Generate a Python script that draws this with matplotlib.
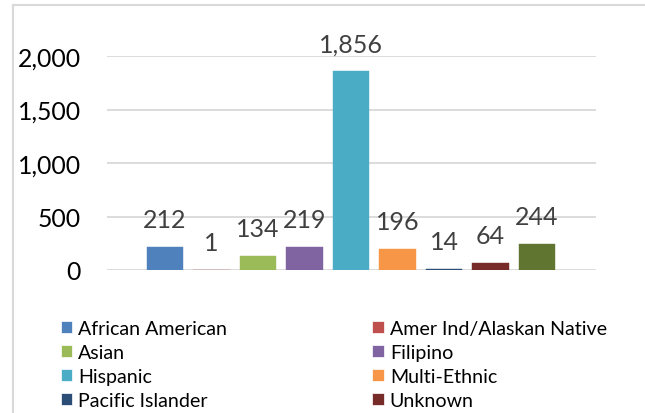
import matplotlib.pyplot as plt
from matplotlib.lines import Line2D
from matplotlib.patches import Patch
from matplotlib.ticker import FuncFormatter

# enrollment counts by ethnicity
categories = ["African American", "Amer Ind/Alaskan Native", "Asian", "Filipino",
              "Hispanic", "Multi-Ethnic", "Pacific Islander", "Unknown", "White"]
counts = [212, 1, 134, 219, 1856, 196, 14, 64, 244]
colors = ["#4F81BD", "#C0504D", "#9BBB59", "#8064A2", "#4BACC6",
          "#F79646", "#2C4D75", "#772C2A", "#5F7530"]
yticks = [0, 500, 1000, 1500, 2000]

plt.rcParams["font.family"] = ["Lato", "DejaVu Sans"]

W, H = 645, 414
fig = plt.figure(figsize=(W / 100, H / 100), dpi=100)
ax = fig.add_axes([107 / W, (H - 271) / H, 489 / W, 214 / H])

x = list(range(len(counts)))
ax.bar(x, counts, width=0.79, color=colors, edgecolor=colors, linewidth=0.3, zorder=3)
for xi, v in zip(x, counts):
    ax.annotate(f"{v:,}", (xi, v), xytext=(0, 20), textcoords="offset pixels",
                ha="center", va="baseline", fontsize=18, color="#404040",
                annotation_clip=False)

ax.set_xlim(-1.25, 9.27)
ax.set_ylim(0, 2000)
ax.set_yticks(yticks)
ax.yaxis.set_major_formatter(FuncFormatter(lambda v, _: f"{int(v):,}"))
ax.tick_params(axis="y", length=0, pad=19, labelsize=17.8, labelcolor="#000000")
ax.set_xticks([])
ax.grid(axis="y", color="#d9d9d9", linewidth=1.3, zorder=0)
for s in ax.spines.values():
    s.set_visible(False)

# chart area border (left and top edges)
fig.add_artist(Line2D([13 / W, 13 / W], [0, (H - 6) / H], color="#d9d9d9", lw=1.5))
fig.add_artist(Line2D([13 / W, 1], [(H - 6) / H, (H - 6) / H], color="#d9d9d9", lw=1.5))

# legend laid out row by row in two columns
order = [0, 2, 4, 6, 1, 3, 5, 7]
handles = [Patch(facecolor=colors[i], edgecolor="white", linewidth=0.5) for i in order]
labels = [categories[i] for i in order]
fig.legend(handles, labels, ncol=2, loc="upper left",
           bbox_to_anchor=(61 / W, (H - 321) / H), frameon=False,
           fontsize=14.1, handlelength=0.57, handleheight=0.57, handletextpad=0.32,
           labelspacing=0.36, columnspacing=7.4, borderpad=0, borderaxespad=0)

fig.savefig("out.png", dpi=100)
